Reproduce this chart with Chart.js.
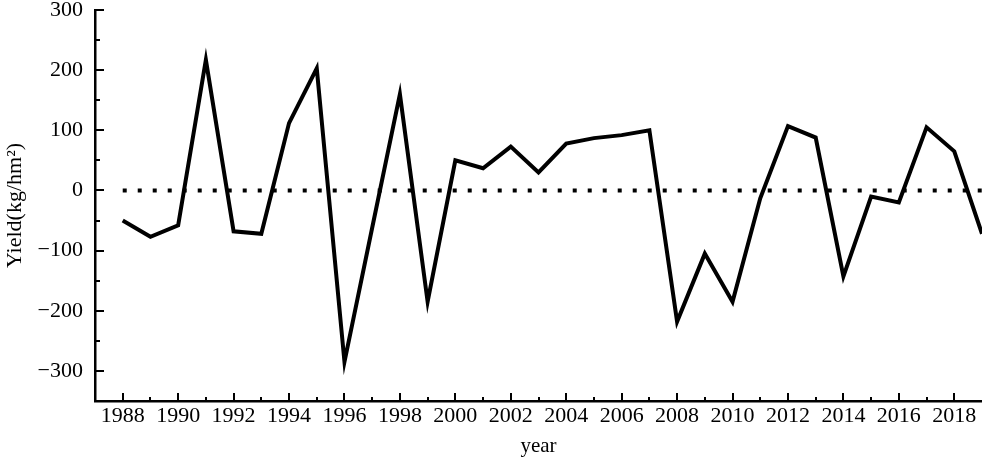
<!DOCTYPE html>
<html>
<head>
<meta charset="utf-8">
<script src="https://cdn.jsdelivr.net/npm/chart.js@4/dist/chart.umd.min.js"></script>
<style>
html,body{margin:0;padding:0;background:#fff;}
#wrap{width:982px;height:459px;}
</style>
</head>
<body>
<div id="wrap"><canvas id="c" width="982" height="459"></canvas></div>
<script>
const years = [1988,1989,1990,1991,1992,1993,1994,1995,1996,1997,1998,1999,2000,2001,2002,2003,2004,2005,2006,2007,2008,2009,2010,2011,2012,2013,2014,2015,2016,2017,2018,2019];
const yieldValues = [-50,-77,-58,217,-68,-72,112,203,-285,-62,160,-185,50,37,73,30,78,87,92,100,-218,-105,-185,-13,107,88,-143,-10,-20,105,65,-72];
const zeroLineX = [1988,2019];
const zeroLineY = [0,0];
const xTickYears = [1988,1990,1992,1994,1996,1998,2000,2002,2004,2006,2008,2010,2012,2014,2016,2018];
const xMinorYears = [1989,1991,1993,1995,1997,1999,2001,2003,2005,2007,2009,2011,2013,2015,2017,2019];
const yTickValues = [-300,-200,-100,0,100,200,300];
const yMinorValues = [-250,-150,-50,50,150,250];

const FONT = "'Liberation Serif', 'DejaVu Serif', serif";

const tickPlugin = {
  id: 'innerTicks',
  afterDraw(chart) {
    const ctx = chart.ctx;
    const xs = chart.scales.x, ys = chart.scales.y;
    const left = chart.chartArea.left, bottom = chart.chartArea.bottom;
    ctx.save();
    ctx.strokeStyle = '#000';
    ctx.lineWidth = 2;
    ctx.beginPath();
    yTickValues.forEach(v => { const p = Math.round(ys.getPixelForValue(v)); ctx.moveTo(left, p); ctx.lineTo(left + 9, p); });
    yMinorValues.forEach(v => { const p = Math.round(ys.getPixelForValue(v)); ctx.moveTo(left, p); ctx.lineTo(left + 5, p); });
    xTickYears.forEach(v => { const p = Math.round(xs.getPixelForValue(v)); ctx.moveTo(p, bottom); ctx.lineTo(p, bottom - 8); });
    xMinorYears.forEach(v => { const p = Math.round(xs.getPixelForValue(v)); if (p < chart.chartArea.right - 2) { ctx.moveTo(p, bottom); ctx.lineTo(p, bottom - 4); } });
    ctx.stroke();
    ctx.restore();
  }
};

new Chart(document.getElementById('c'), {
  type: 'line',
  data: {
    datasets: [
      {
        data: years.map((x, i) => ({x: x, y: yieldValues[i]})),
        borderColor: '#000',
        borderWidth: 4,
        pointRadius: 0,
        tension: 0,
        fill: false,
        borderJoinStyle: 'miter'
      },
      {
        data: zeroLineX.map((x, i) => ({x: x, y: zeroLineY[i]})),
        borderColor: '#000',
        borderWidth: 4,
        borderDash: [4, 11],
        borderCapStyle: 'butt',
        pointRadius: 0,
        fill: false
      }
    ]
  },
  options: {
    responsive: false,
    animation: false,
    events: [],
    layout: { padding: { top: 10, right: 0, left: 0, bottom: 0 } },
    plugins: { legend: { display: false }, tooltip: { enabled: false } },
    scales: {
      x: {
        type: 'linear',
        min: 1987,
        max: 2019,
        grid: { display: false, drawTicks: false },
        border: { display: true, color: '#000', width: 2.5 },
        afterBuildTicks: s => { s.ticks = xTickYears.map(v => ({value: v})); },
        afterFit: s => { s.height = 58; s.paddingLeft = 0; s.paddingRight = 0; },
        ticks: {
          color: '#000',
          font: { family: FONT, size: 22 },
          padding: 2,
          maxRotation: 0,
          autoSkip: false,
          callback: v => String(v)
        },
        title: {
          display: true,
          text: 'year',
          color: '#000',
          font: { family: FONT, size: 21 },
          padding: { top: 0, bottom: 0 }
        }
      },
      y: {
        min: -350,
        max: 300,
        grid: { display: false, drawTicks: false },
        border: { display: true, color: '#000', width: 2.5 },
        afterBuildTicks: s => { s.ticks = yTickValues.map(v => ({value: v})); },
        afterFit: s => { s.width = 95; s.paddingTop = 0; s.paddingBottom = 0; },
        ticks: {
          color: '#000',
          font: { family: FONT, size: 22 },
          padding: 12,
          callback: v => String(v).replace('-', '\u2212')
        },
        title: {
          display: true,
          text: 'Yield(kg/hm\u00B2)',
          color: '#000',
          font: { family: FONT, size: 22 },
          padding: { top: 2, bottom: 0 }
        }
      }
    }
  },
  plugins: [tickPlugin]
});
</script>
</body>
</html>
